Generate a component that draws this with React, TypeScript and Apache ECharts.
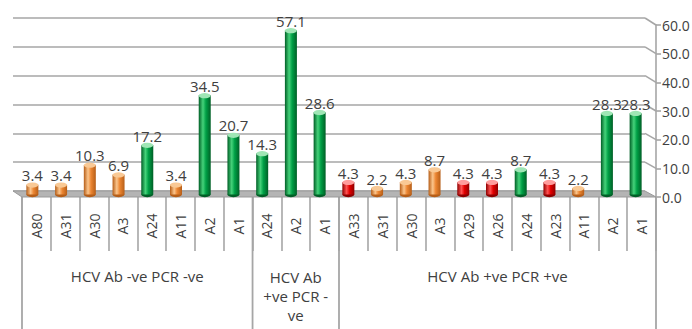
import React, { useEffect, useRef } from "react";
import * as echarts from "echarts";

// Allele frequencies (%) per genotype group
const categories = [
  "A80", "A31", "A30", "A3", "A24", "A11", "A2", "A1",
  "A24", "A2", "A1",
  "A33", "A31", "A30", "A3", "A29", "A26", "A24", "A23", "A11", "A2", "A1",
];
const values = [
  3.4, 3.4, 10.3, 6.9, 17.2, 3.4, 34.5, 20.7,
  14.3, 57.1, 28.6,
  4.3, 2.2, 4.3, 8.7, 4.3, 4.3, 8.7, 4.3, 2.2, 28.3, 28.3,
];
// colour class of each bar: o = orange, g = green, r = red
const barClass = [
  "o", "o", "o", "o", "g", "o", "g", "g",
  "g", "g", "g",
  "r", "o", "o", "o", "r", "r", "g", "r", "o", "g", "g",
];
const groupNames = ["HCV Ab -ve PCR -ve", "HCV Ab\n+ve PCR -\nve", "HCV Ab +ve PCR +ve"];
const groupSizes = [8, 3, 11];
const yMin = 0;
const yMax = 60;
const yStep = 10;

const W = 692;
const H = 329;
const FONT = "Open Sans";
const GRAY = "#a6a6a6";
const TEXT = "#404040";

// back wall, front axis plane
const wallLeft = 13;
const wallRight = 645;
const frontLeft = 22;
const frontRight = 656;

const palette: Record<string, { dark: string; mid: string; light: string; top: string; rim: string }> = {
  o: { dark: "#b65e18", mid: "#ec8632", light: "#fbc58c", top: "#f9c995", rim: "#c96c22" },
  g: { dark: "#005f26", mid: "#00a046", light: "#45d27a", top: "#9fe6b5", rim: "#007a33" },
  r: { dark: "#8e0000", mid: "#e20000", light: "#ff5252", top: "#ff9c9c", rim: "#b00000" },
};

function bodyGradient(k: string) {
  const p = palette[k];
  return new echarts.graphic.LinearGradient(0, 0, 1, 0, [
    { offset: 0, color: p.dark },
    { offset: 0.35, color: p.light },
    { offset: 0.6, color: p.mid },
    { offset: 1, color: p.dark },
  ]);
}

export default function App() {
  const ref = useRef<HTMLDivElement>(null);

  useEffect(() => {
    document.body.style.margin = "0";
    const el = ref.current;
    if (!el) return;
    const chart = echarts.init(el, null, { renderer: "svg" });

    const barData = values.map((v, i) => ({
      value: v,
      itemStyle: { color: bodyGradient(barClass[i]) },
    }));
    const topData = values.map((v, i) => ({
      value: v,
      itemStyle: { color: palette[barClass[i]].top, borderColor: palette[barClass[i]].rim, borderWidth: 1 },
    }));
    const baseData = values.map((v, i) => ({
      value: v,
      itemStyle: { color: palette[barClass[i]].dark },
    }));

    const yAxisBase = { type: "value" as const, min: yMin, max: yMax, interval: yStep };

    chart.setOption({
      animation: false,
      grid: [
        // bars
        { left: 18, right: W - 650, top: 22, bottom: H - 194.5, outerBoundsMode: "none" },
        // back wall gridlines
        { left: wallLeft, right: W - wallRight, top: 18, bottom: H - 191, outerBoundsMode: "none" },
        // front axis and category table
        { left: frontLeft, right: W - frontRight, top: 25, bottom: H - 197, outerBoundsMode: "none" },
      ],
      xAxis: [
        { gridIndex: 0, type: "category", data: categories, show: false },
        { gridIndex: 1, type: "category", data: categories, show: false },
        {
          gridIndex: 2,
          type: "category",
          data: categories,
          position: "bottom",
          axisLine: { show: false },
          axisTick: { show: true, length: 54, lineStyle: { color: GRAY, width: 1.6 } },
          axisLabel: {
            interval: 0,
            rotate: 90,
            margin: 29,
            align: "center",
            verticalAlign: "middle",
            fontFamily: FONT,
            fontSize: 14,
            color: TEXT,
          },
        },
      ],
      yAxis: [
        { ...yAxisBase, gridIndex: 0, show: false },
        {
          ...yAxisBase,
          gridIndex: 1,
          axisLine: { show: false },
          axisTick: { show: false },
          axisLabel: { show: false },
          splitLine: { show: true, lineStyle: { color: GRAY, width: 1.6 } },
        },
        {
          ...yAxisBase,
          gridIndex: 2,
          position: "right",
          axisLine: { show: true, lineStyle: { color: GRAY, width: 1.6 } },
          axisTick: { show: true, length: 5, lineStyle: { color: GRAY, width: 1.6 } },
          splitLine: { show: false },
          axisLabel: {
            margin: 6,
            fontFamily: FONT,
            fontSize: 14,
            color: TEXT,
            formatter: (v: number) => v.toFixed(1),
          },
        },
      ],
      series: [
        {
          type: "pictorialBar",
          xAxisIndex: 0,
          yAxisIndex: 0,
          data: baseData,
          symbol: "circle",
          symbolSize: [12, 5],
          symbolPosition: "start",
          symbolOffset: [0, "50%"],
          barGap: "-100%",
          z: 2,
        },
        {
          type: "bar",
          xAxisIndex: 0,
          yAxisIndex: 0,
          data: barData,
          barWidth: 12,
          barGap: "-100%",
          z: 3,
          label: {
            show: true,
            position: "top",
            distance: 2,
            fontFamily: FONT,
            fontSize: 15,
            color: TEXT,
            formatter: (p: any) => Number(p.value).toFixed(1),
          },
        },
        {
          type: "pictorialBar",
          xAxisIndex: 0,
          yAxisIndex: 0,
          data: topData,
          symbol: "circle",
          symbolSize: [12, 5],
          symbolPosition: "end",
          symbolOffset: [0, "-50%"],
          barGap: "-100%",
          z: 4,
        },
      ],
    });

    // floor, wall-to-axis connectors and the group table
    const yWall = (v: number) => chart.convertToPixel({ yAxisIndex: 1 }, v) as number;
    const yFront = (v: number) => chart.convertToPixel({ yAxisIndex: 2 }, v) as number;
    const xCat = (i: number) => chart.convertToPixel({ xAxisIndex: 2 }, i) as number;
    const band = xCat(1) - xCat(0);
    const edge = (i: number) => xCat(0) - band / 2 + i * band;

    const graphics: any[] = [];
    graphics.push({
      type: "polygon",
      z: 1,
      shape: {
        points: [
          [wallLeft, yWall(0)],
          [wallRight, yWall(0)],
          [frontRight, yFront(0)],
          [frontLeft, yFront(0)],
        ],
      },
      style: { fill: "#b4b4b4", stroke: "#999999", lineWidth: 1 },
    });
    for (let v = yMin + yStep; v <= yMax; v += yStep) {
      graphics.push({
        type: "line",
        z: 1,
        shape: { x1: wallRight, y1: yWall(v), x2: frontRight, y2: yFront(v) },
        style: { stroke: GRAY, lineWidth: 1.6 },
      });
    }
    let start = 0;
    const tableTop = yFront(0);
    groupSizes.forEach((n, g) => {
      const x0 = edge(start);
      const x1 = edge(start + n);
      graphics.push({
        type: "line",
        shape: { x1: x0, y1: tableTop, x2: x0, y2: H },
        style: { stroke: GRAY, lineWidth: 1.8 },
      });
      const lines = groupNames[g].split("\n").length;
      graphics.push({
        type: "text",
        x: (x0 + x1) / 2,
        y: lines > 1 ? 296 : 276,
        style: {
          text: groupNames[g],
          fontFamily: FONT,
          fontSize: 15,
          fill: TEXT,
          align: "center",
          verticalAlign: "middle",
          lineHeight: 19,
        },
      });
      start += n;
    });
    const xEnd = edge(start);
    graphics.push({
      type: "line",
      shape: { x1: xEnd, y1: tableTop, x2: xEnd, y2: H },
      style: { stroke: GRAY, lineWidth: 1.8 },
    });

    chart.setOption({ graphic: graphics });

    return () => chart.dispose();
  }, []);

  return <div ref={ref} style={{ width: W, height: H }} />;
}
